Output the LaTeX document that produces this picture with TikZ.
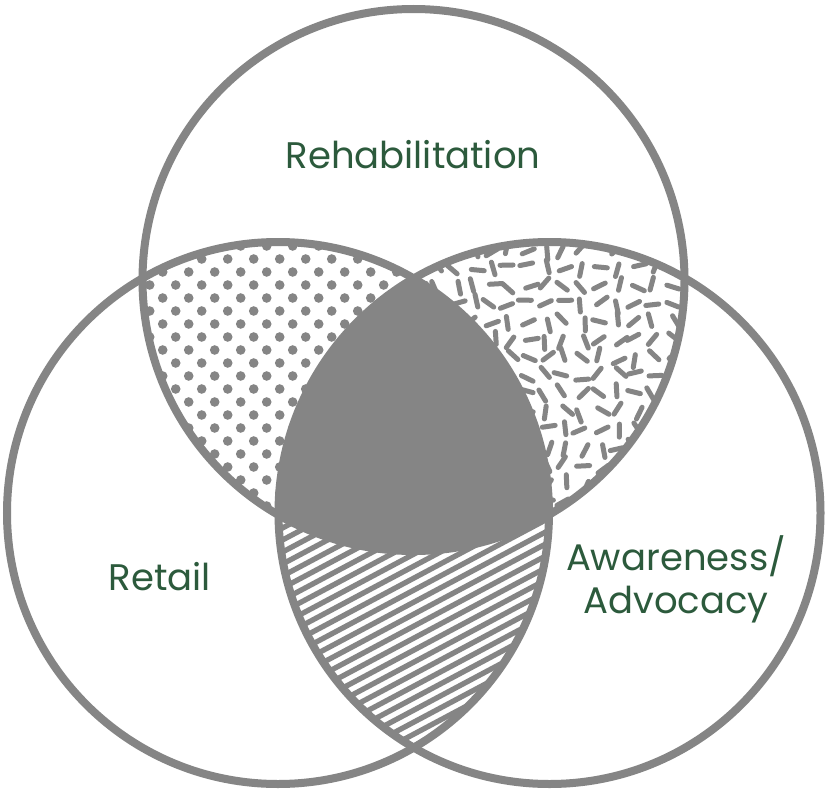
\documentclass[tikz,border=0pt]{standalone}
\usepackage{fontspec}
\setmainfont{Poppins}
\definecolor{vgray}{RGB}{133,133,133}
\definecolor{vgreen}{RGB}{44,90,60}
\begin{document}
\begin{tikzpicture}[x=1pt,y=-1pt,
  ring/.style={draw=vgray,line width=8pt},
  lbl/.style={text=vgreen,font=\fontsize{37}{43}\selectfont,align=center,inner sep=0pt},
  dotfill/.style={fill=vgray},
  sprinkle/.style={draw=vgray,line width=5pt,line cap=round},
  stripe/.style={draw=vgray,line width=5.3pt}]
\useasboundingbox[fill=white] (0,0) rectangle (825,792);
\coordinate (cT) at (413.5,280);
\coordinate (cL) at (278,513);
\coordinate (cR) at (549.5,513);
% dots: top & left
\begin{scope}
  \clip (cT) circle (271pt);
  \clip (cL) circle (271pt);
  \foreach \k in {-2,...,21}{
    \foreach \m in {-3,...,10}{
      \pgfmathsetmacro\xx{201.7-13*mod(\k+20,2)+26*\m}
      \pgfmathsetmacro\yy{259+13*\k}
      \fill[dotfill] (\xx,\yy) circle (4.8pt);
    }
  }
\end{scope}
% sprinkles: top & right
\pgfmathsetseed{11}
\begin{scope}
  \clip (cT) circle (271pt);
  \clip (cR) circle (271pt);
  \foreach \i in {0,...,16}{
    \foreach \j in {0,...,16}{
      \pgfmathsetmacro\xx{402+18*\i+4*rand}
      \pgfmathsetmacro\yy{232+18*\j+4*rand}
      \pgfmathsetmacro\aa{180*rnd}
      \draw[sprinkle] (\xx,\yy) ++(\aa:6.5pt) -- ++(\aa+180:13pt);
    }
  }
\end{scope}
% stripes: left & right
\begin{scope}
  \clip (cL) circle (271pt);
  \clip (cR) circle (271pt);
  \foreach \k in {0,...,40}{
    \draw[stripe] (260,{480+12*\k}) -- ++(310,-165);
  }
\end{scope}
% centre
\begin{scope}
  \clip (cT) circle (271pt);
  \clip (cL) circle (271pt);
  \fill[vgray] (cR) circle (271pt);
\end{scope}
% rings
\draw[ring] (cT) circle (271pt);
\draw[ring] (cL) circle (271pt);
\draw[ring] (cR) circle (271pt);
% labels
\node[lbl] (reh) at (413,155) {Rehabilitation};
\node[lbl] (ret) at (160,577) {Retail};
\node[lbl] (awa) at (676,579) {Awareness/\\Advocacy};
\end{tikzpicture}
\end{document}
